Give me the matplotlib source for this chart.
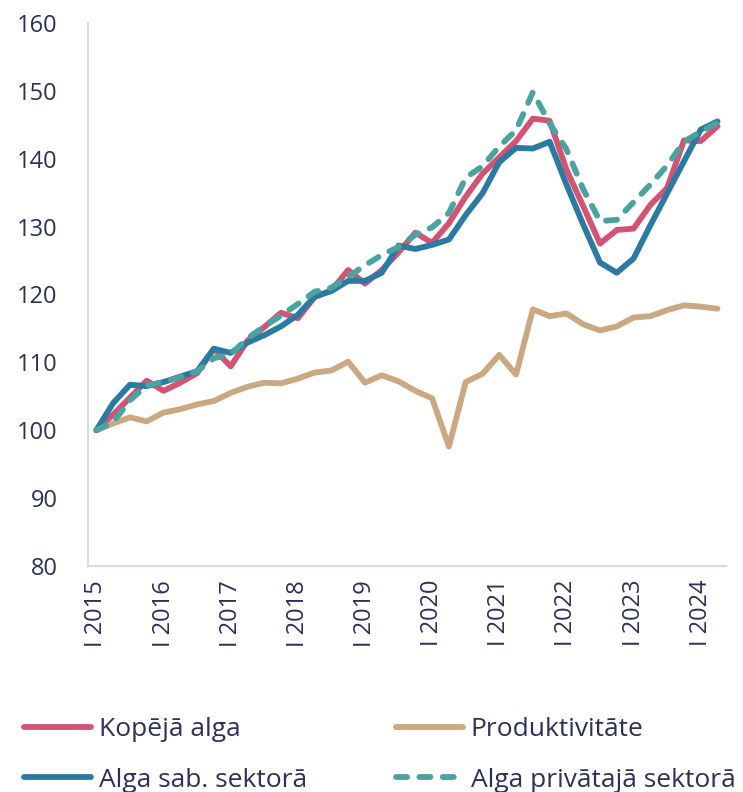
import numpy as np
import matplotlib.pyplot as plt

plt.rcParams['font.family'] = ['Open Sans', 'DejaVu Sans']

# quarterly, I 2015 .. II 2024
years = [str(y) for y in range(2015, 2025)]
tick_labels = ["I " + y for y in years]

kopeja_alga = [100, 102.3, 104.8, 107.3, 105.8, 107.0, 108.4, 112.0, 109.4, 113.2,
               115.2, 117.3, 116.5, 119.6, 120.6, 123.6, 121.6, 123.6, 126.2, 129.1,
               127.6, 130.5, 134.4, 137.8, 140.2, 142.6, 145.9, 145.6, 138.4, 133.0,
               127.5, 129.5, 129.7, 133.2, 135.7, 142.7, 142.6, 144.8]
produktivitate = [100, 101.0, 101.9, 101.3, 102.6, 103.1, 103.8, 104.3, 105.5, 106.4,
                  107.0, 106.9, 107.6, 108.5, 108.8, 110.1, 107.0, 108.1, 107.2, 105.8,
                  104.7, 97.6, 107.1, 108.3, 111.1, 108.2, 117.8, 116.8, 117.2, 115.6,
                  114.7, 115.3, 116.6, 116.8, 117.7, 118.4, 118.2, 117.9]
alga_sab = [100, 104.0, 106.7, 106.5, 107.1, 107.9, 108.7, 112.0, 111.4, 112.9,
            114.0, 115.3, 117.0, 119.7, 120.5, 122.0, 122.0, 123.2, 127.2, 126.7,
            127.3, 128.1, 131.7, 134.9, 139.5, 141.6, 141.5, 142.5, 136.2, 130.3,
            124.7, 123.2, 125.3, 130.2, 134.9, 139.6, 144.3, 145.5]
alga_priv = [100, 101.2, 104.4, 106.6, 107.1, 107.8, 108.7, 110.6, 111.2, 113.5,
             115.3, 116.9, 118.6, 120.4, 121.0, 122.6, 124.3, 125.8, 127.0, 128.8,
             129.9, 132.0, 137.2, 138.9, 141.8, 144.2, 149.8, 145.2, 141.4, 135.5,
             130.8, 131.0, 133.6, 136.2, 139.0, 142.5, 144.0, 145.3]

text_col = '#2d2f5c'
axis_col = '#d9d9ee'

x = np.arange(len(kopeja_alga))

fig = plt.figure(figsize=(7.43, 7.92), dpi=100)
ax = fig.add_axes([0.1184, 0.2854, 0.8586, 0.6856])

lw = 4.2
l1, = ax.plot(x, kopeja_alga, color='#d65273', lw=lw, solid_capstyle='round',
              solid_joinstyle='round', label='Kopējā alga')
l2, = ax.plot(x, produktivitate, color='#c9a882', lw=lw, solid_capstyle='round',
              solid_joinstyle='round', label='Produktivitāte')
l3, = ax.plot(x, alga_sab, color='#2a7aa3', lw=lw, solid_capstyle='round',
              solid_joinstyle='round', label='Alga sab. sektorā')
l4, = ax.plot(x, alga_priv, color='#4aa39e', lw=lw, linestyle=(0, (1.9, 2.1)),
              dash_capstyle='round', dash_joinstyle='round', label='Alga privātajā sektorā')

ax.set_xlim(-0.5, len(x) - 0.5)
ax.set_ylim(80, 160)
ax.set_yticks(range(80, 161, 10))
ax.set_xticks(range(0, len(x), 4))
ax.set_xticklabels(tick_labels, rotation=90)

ax.tick_params(axis='both', length=0, labelsize=17, labelcolor=text_col)
ax.tick_params(axis='x', pad=10)
ax.tick_params(axis='y', pad=22)
for s in ['top', 'right']:
    ax.spines[s].set_visible(False)
for s in ['left', 'bottom']:
    ax.spines[s].set_color(axis_col)
    ax.spines[s].set_linewidth(1.5)

leg = fig.legend([l1, l3, l2, l4],
                 ['Kopējā alga', 'Alga sab. sektorā', 'Produktivitāte', 'Alga privātajā sektorā'],
                 ncol=2, loc='upper left', bbox_to_anchor=(0.032, 0.095),
                 frameon=False, fontsize=19, handlelength=2.55, handletextpad=0.3,
                 columnspacing=3.35, labelspacing=0.98, borderaxespad=0, borderpad=0)
for t in leg.get_texts():
    t.set_color(text_col)

fig.savefig('out.png', dpi=100)
